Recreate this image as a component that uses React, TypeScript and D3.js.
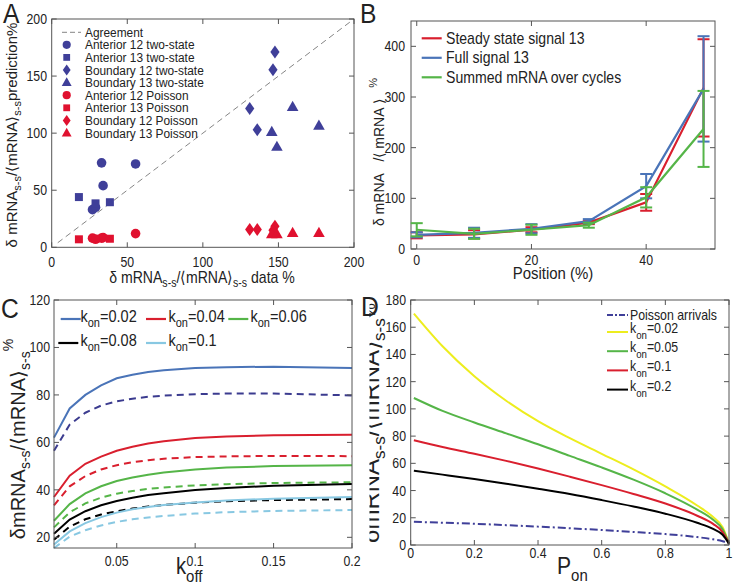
import React from "react";
import * as d3 from "d3";

// ---------- Panel A data ----------
const antTwo12X = [33, 55.5, 34, 27, 29];
const antTwo12Y = [74, 73, 54, 33, 35];
const antTwo13X = [18, 29, 38.5];
const antTwo13Y = [44, 38.5, 39.5];
const bndTwo12X = [147.7, 146.4, 131, 136];
const bndTwo12Y = [171, 155.5, 121.5, 103];
const bndTwo13X = [159.4, 176.8, 145.6, 149];
const bndTwo13Y = [123, 106.5, 101, 88];
const antPois12X = [27, 29, 33, 34, 55.5];
const antPois12Y = [8, 7, 8, 8.5, 12];
const antPois13X = [18, 29, 38.5];
const antPois13Y = [7, 7.5, 7.5];
const bndPois12X = [131, 136, 147.7, 146.4];
const bndPois12Y = [15.5, 15.5, 18.5, 15];
const bndPois13X = [159.4, 176.8, 145.6, 149];
const bndPois13Y = [12.5, 12.5, 11.5, 11.5];
const ticksA = [0, 50, 100, 150, 200];

// ---------- Panel B data ----------
const positions = [0, 10, 20, 30, 40, 50];
const steadyMean = [27, 29, 38, 52, 92, 318];
const steadyErr = [6, 8, 5, 3, 16.5, 96];
const fullMean = [28, 32, 40, 55, 124, 316];
const fullErr = [5, 10, 9, 4, 24, 104];
const summedMean = [38, 30, 38, 47, 102, 237];
const summedErr = [13, 10, 10, 5, 20, 75];
const ticksBX = [0, 20, 40];
const ticksBY = [0, 100, 200, 300, 400];

// ---------- Panel C data ----------
const koff = [0.01, 0.02, 0.03, 0.04, 0.05, 0.06, 0.07, 0.08, 0.1, 0.12, 0.15, 0.2];
const c002 = [62, 74.3, 80, 84, 87, 88.5, 89.7, 90.4, 91.3, 91.7, 91.9, 91.3];
const c002d = [56.5, 67.5, 72.5, 75.5, 77.3, 78.4, 79.2, 79.7, 80.3, 80.6, 80.6, 79.8];
const c004 = [37, 46, 51, 54, 56.5, 58.2, 59.5, 60.5, 61.8, 62.5, 63, 63.2];
const c004d = [33.5, 41.5, 45.8, 48.6, 50.4, 51.6, 52.5, 53.1, 53.8, 54.1, 54.3, 54.2];
const c006 = [27, 34, 38.5, 41.5, 43.7, 45.2, 46.4, 47.3, 48.6, 49.4, 50, 50.4];
const c006d = [24.2, 30.5, 34.3, 36.7, 38.4, 39.5, 40.4, 41, 41.9, 42.4, 42.9, 43.2];
const c008 = [21.5, 27.5, 31, 33.5, 35.3, 36.7, 37.8, 38.6, 39.9, 40.8, 41.7, 42.5];
const c008d = [19, 24.5, 27.6, 29.6, 31, 32.1, 33, 33.6, 34.6, 35.2, 35.7, 36.1];
const c010 = [17, 22.5, 26, 28.5, 30.4, 31.8, 32.8, 33.6, 34.7, 35.5, 36.3, 37];
const c010d = [15.5, 20.3, 23, 25, 26.5, 27.6, 28.4, 29, 30, 30.6, 31.1, 31.5];
const ticksCX = [0.05, 0.1, 0.15, 0.2];
const ticksCY = [20, 40, 60, 80, 100, 120];

// ---------- Panel D data ----------
const pon = [0.01, 0.1, 0.2, 0.3, 0.4, 0.5, 0.6, 0.7, 0.8, 0.9, 0.95, 0.98, 1];
const dPoisson = [17, 16.4, 15.6, 14.6, 13.5, 12.3, 11, 9.6, 8, 5.8, 4.2, 2.8, 1];
const d002 = [170, 146, 124, 106, 91, 78.5, 67, 55.5, 43, 29, 20.5, 13, 1];
const d005 = [108, 98.5, 90, 82, 74, 65.5, 57, 48, 38, 26, 18.5, 11.5, 1];
const d01 = [77, 72, 67, 61.8, 56.2, 50.2, 44, 37.5, 30.5, 21.5, 15.5, 9.5, 1];
const d02 = [54.5, 51.7, 48.5, 45, 41.3, 37.4, 33, 28.3, 23, 16.3, 11.8, 7.5, 1];
const ticksDX = [0, 0.2, 0.4, 0.6, 0.8, 1];
const ticksDY = [0, 20, 40, 60, 80, 100, 120, 140, 160, 180];

// ---------- styling ----------
const FONT = "'Liberation Sans', Arial, Helvetica, sans-serif";
const SX = 0.88;
const TXT = "#222";
const AX = "#555";
const NAVY = "#3f3f99";
const REDA = "#e0112f";
const RED = "#d91f2e";
const BLUE = "#4a74b8";
const GREEN = "#55b548";
const LBLUE = "#88c8e2";
const YELLOW = "#eded1e";

function HText({ x, y, size, anchor = "start", children }: any) {
  return (
    <text transform={`translate(${x},${y}) scale(${SX},1)`} fontSize={size} textAnchor={anchor} fill={TXT} fontFamily={FONT}>
      {children}
    </text>
  );
}
function VText({ x, y, size, children }: any) {
  return (
    <text transform={`translate(${x},${y}) rotate(-90)`} fontSize={size} textAnchor="middle" fill={TXT} fontFamily={FONT}>
      {children}
    </text>
  );
}

function Frame({ xs, ys, xt, yt, len = 5 }: any) {
  const [xa, xb] = xs.range();
  const [ya, yb] = ys.range();
  return (
    <g stroke={AX} strokeWidth={1} fill="none">
      <rect x={xa} y={yb} width={xb - xa} height={ya - yb} />
      {xt.map((t: number, i: number) => (
        <g key={"x" + i}>
          <line x1={xs(t)} x2={xs(t)} y1={ya} y2={ya - len} />
          <line x1={xs(t)} x2={xs(t)} y1={yb} y2={yb + len} />
        </g>
      ))}
      {yt.map((t: number, i: number) => (
        <g key={"y" + i}>
          <line x1={xa} x2={xa + len} y1={ys(t)} y2={ys(t)} />
          <line x1={xb} x2={xb - len} y1={ys(t)} y2={ys(t)} />
        </g>
      ))}
    </g>
  );
}

function TickLabels({ xs, ys, xt, yt, xLabelY, yLabelX, fmt, size = 14 }: any) {
  return (
    <g>
      {xt.map((t: number, i: number) => (
        <HText key={"xl" + i} x={xs(t)} y={xLabelY} size={size} anchor="middle">{fmt(t)}</HText>
      ))}
      {yt.map((t: number, i: number) => (
        <HText key={"yl" + i} x={yLabelX} y={ys(t) + 5} size={size} anchor="end">{fmt(t)}</HText>
      ))}
    </g>
  );
}

function Marker({ shape, color, x, y, s = 1 }: any) {
  const t = `translate(${x},${y}) scale(${s})`;
  if (shape === "circle") return <circle cx={x} cy={y} r={4.8 * s} fill={color} />;
  if (shape === "square") return <rect x={x - 4 * s} y={y - 4 * s} width={8 * s} height={8 * s} fill={color} />;
  if (shape === "diamond") return <path transform={t} d="M0,-6.5L4.6,0L0,6.5L-4.6,0Z" fill={color} />;
  return <path transform={t} d="M0,-6.2L5.8,4L-5.8,4Z" fill={color} />;
}

const SubLabel = ({ sub = 12, dd = 4, tail }: any) => (
  <>
    <tspan>δ mRNA</tspan>
    <tspan fontSize={sub} dy={dd}>s-s</tspan>
    <tspan dy={-dd}>/⟨mRNA⟩</tspan>
    <tspan fontSize={sub} dy={dd}>s-s</tspan>
    <tspan dy={-dd}>{tail}</tspan>
  </>
);

const RatioLabel = ({ sub, dd, sup }: any) => (
  <>
    <tspan>δmRNA</tspan>
    <tspan fontSize={sub} dy={dd}>s-s</tspan>
    <tspan dy={-dd}>/⟨mRNA⟩</tspan>
    <tspan fontSize={sub} dy={dd}>s-s</tspan>
    <tspan fontSize={sub} dy={-sup}>%</tspan>
  </>
);

export default function App() {
  // ----- A -----
  const xA = d3.scaleLinear([0, 200], [51.7, 354]);
  const yA = d3.scaleLinear([0, 200], [247.3, 19]);
  const seriesA = [
    { name: "Anterior 12 two-state", xs: antTwo12X, ys: antTwo12Y, shape: "circle", color: NAVY },
    { name: "Anterior 13 two-state", xs: antTwo13X, ys: antTwo13Y, shape: "square", color: NAVY },
    { name: "Boundary 12 two-state", xs: bndTwo12X, ys: bndTwo12Y, shape: "diamond", color: NAVY },
    { name: "Boundary 13 two-state", xs: bndTwo13X, ys: bndTwo13Y, shape: "triangle", color: NAVY },
    { name: "Anterior 12 Poisson", xs: antPois12X, ys: antPois12Y, shape: "circle", color: REDA },
    { name: "Anterior 13 Poisson", xs: antPois13X, ys: antPois13Y, shape: "square", color: REDA },
    { name: "Boundary 12 Poisson", xs: bndPois12X, ys: bndPois12Y, shape: "diamond", color: REDA },
    { name: "Boundary 13 Poisson", xs: bndPois13X, ys: bndPois13Y, shape: "triangle", color: REDA },
  ];

  // ----- B -----
  const xB = d3.scaleLinear([-1, 52], [411, 715]);
  const yB = d3.scaleLinear([0, 450], [249, 21]);
  const lineB = d3.line<number>().x((_, i) => xB(positions[i])).y((d) => yB(d));
  const seriesB = [
    { name: "Steady state signal 13", m: steadyMean, e: steadyErr, color: RED },
    { name: "Full signal 13", m: fullMean, e: fullErr, color: BLUE },
    { name: "Summed mRNA over cycles", m: summedMean, e: summedErr, color: GREEN },
  ];

  // ----- C -----
  const xC = d3.scaleLinear([0.01, 0.2], [54, 352]);
  const yC = d3.scaleLinear([15.5, 120], [548, 300]);
  const lineC = d3.line<number>().x((_, i) => xC(koff[i])).y((d) => yC(d));
  const seriesC = [
    { label: "=0.02", solid: c002, dashed: c002d, color: BLUE, dcolor: "#3b3b8f" },
    { label: "=0.04", solid: c004, dashed: c004d, color: RED, dcolor: RED },
    { label: "=0.06", solid: c006, dashed: c006d, color: GREEN, dcolor: GREEN },
    { label: "=0.08", solid: c008, dashed: c008d, color: "#000", dcolor: "#000" },
    { label: "=0.1", solid: c010, dashed: c010d, color: LBLUE, dcolor: LBLUE },
  ];
  const legC = [
    { lx: 60.7, tx: 80.5, y: 319 },
    { lx: 146, tx: 168.5, y: 319 },
    { lx: 228.3, tx: 250.5, y: 319 },
    { lx: 58.3, tx: 80.5, y: 343 },
    { lx: 146, tx: 168.5, y: 343 },
  ];

  // ----- D -----
  const xD = d3.scaleLinear([0, 1], [410.7, 729]);
  const yD = d3.scaleLinear([0, 180], [545, 300]);
  const lineD = d3.line<number>().x((_, i) => xD(pon[i])).y((d) => yD(d)).curve(d3.curveMonotoneX);
  const seriesD = [
    { label: "=0.02", v: d002, color: YELLOW },
    { label: "=0.05", v: d005, color: GREEN },
    { label: "=0.1", v: d01, color: RED },
    { label: "=0.2", v: d02, color: "#000" },
  ];

  return (
    <svg width={733} height={588} style={{ position: "absolute", left: 0, top: 0, background: "#fff" }} fontFamily={FONT}>
      <defs>
        <clipPath id="clipD">
          <rect x={369.5} y={280} width={364} height={308} />
        </clipPath>
        <clipPath id="clipB">
          <rect x={366} y={0} width={367} height={290} />
        </clipPath>
      </defs>
      <rect x={0} y={0} width={733} height={588} fill="#fff" />

      {/* ================= Panel A ================= */}
      <HText x={3} y={23} size={28}>A</HText>
      <line x1={xA(4)} y1={yA(4)} x2={xA(200)} y2={yA(200)} stroke="#666" strokeWidth={0.8} strokeDasharray="6,4" />
      {seriesA.map((s, si) =>
        s.xs.map((xv, i) => <Marker key={`a${si}-${i}`} shape={s.shape} color={s.color} x={xA(xv)} y={yA(s.ys[i])} />)
      )}
      <Frame xs={xA} ys={yA} xt={ticksA} yt={ticksA} />
      <TickLabels xs={xA} ys={yA} xt={ticksA} yt={ticksA} xLabelY={267} yLabelX={47} fmt={(t: number) => String(t)} />
      <g>
        <line x1={62} x2={81} y1={32.3} y2={32.3} stroke="#666" strokeWidth={0.8} strokeDasharray="5,3" />
        <HText x={85} y={36.8} size={13.5}>Agreement</HText>
        {seriesA.map((s, i) => (
          <g key={"la" + i}>
            <Marker shape={s.shape} color={s.color} x={66.7} y={44.8 + i * 12.6} s={0.85} />
            <HText x={85} y={49.3 + i * 12.6} size={13.5}>{s.name}</HText>
          </g>
        ))}
      </g>
      <VText x={17} y={135} size={15}>
        <SubLabel sub={11} dd={4} tail="prediction%" />
      </VText>
      <HText x={202} y={283} size={16}>
        <tspan textAnchor="middle">
          <SubLabel sub={12} dd={4} tail=" data %" />
        </tspan>
      </HText>

      {/* ================= Panel B ================= */}
      <HText x={360} y={23} size={28}>B</HText>
      <Frame xs={xB} ys={yB} xt={ticksBX} yt={ticksBY} />
      {seriesB.map((s, si) => (
        <g key={"b" + si}>
          <path d={lineB(s.m) || ""} fill="none" stroke={s.color} strokeWidth={2.2} />
          {s.m.map((m, i) => {
            const cx = xB(positions[i]);
            const lo = yB(m - s.e[i]);
            const hi = yB(m + s.e[i]);
            return (
              <g key={i} stroke={s.color} strokeWidth={2}>
                <line x1={cx} x2={cx} y1={lo} y2={hi} />
                <line x1={cx - 6} x2={cx + 6} y1={lo} y2={lo} />
                <line x1={cx - 6} x2={cx + 6} y1={hi} y2={hi} />
              </g>
            );
          })}
        </g>
      ))}
      <TickLabels xs={xB} ys={yB} xt={ticksBX} yt={ticksBY} xLabelY={265} yLabelX={405} fmt={(t: number) => String(t)} />
      {seriesB.map((s, i) => (
        <g key={"lb" + i}>
          <line x1={421.7} x2={441.7} y1={38.3 + i * 19.5} y2={38.3 + i * 19.5} stroke={s.color} strokeWidth={2.2} />
          <HText x={446} y={43.8 + i * 19.5} size={16}>{s.name}</HText>
        </g>
      ))}
      <HText x={553} y={279} size={17} anchor="middle">Position (%)</HText>
      <g clipPath="url(#clipB)">
        <VText x={384} y={152} size={14}>
          <tspan>δ mRNA</tspan>
          <tspan>{"\u00a0\u00a0\u00a0"}</tspan>
          <tspan>/⟨ mRNA ⟩</tspan>
          <tspan>{"\u00a0\u00a0\u00a0"}</tspan>
          <tspan fontSize={11} dy={-7}>%</tspan>
        </VText>
      </g>

      {/* ================= Panel C ================= */}
      <HText x={1} y={318} size={28}>C</HText>
      {seriesC.map((s, si) => (
        <g key={"c" + si}>
          <path d={lineC(s.dashed) || ""} fill="none" stroke={s.dcolor} strokeWidth={2} strokeDasharray="7,5" />
          <path d={lineC(s.solid) || ""} fill="none" stroke={s.color} strokeWidth={2} />
        </g>
      ))}
      <Frame xs={xC} ys={yC} xt={ticksCX} yt={ticksCY} />
      <TickLabels xs={xC} ys={yC} xt={ticksCX} yt={ticksCY} xLabelY={566} yLabelX={50} fmt={(t: number) => String(t)} />
      {seriesC.map((s, i) => (
        <g key={"lc" + i}>
          <line x1={legC[i].lx} x2={legC[i].lx + 20} y1={legC[i].y} y2={legC[i].y} stroke={s.color} strokeWidth={2.2} />
          <HText x={legC[i].tx} y={legC[i].y + 3} size={16.5}>
            <tspan>k</tspan>
            <tspan fontSize={12.5} dy={5}>on</tspan>
            <tspan dy={-5}>{s.label}</tspan>
          </HText>
        </g>
      ))}
      <HText x={176} y={574} size={23}>
        <tspan>k</tspan>
        <tspan fontSize={17} dy={8}>off</tspan>
      </HText>
      <VText x={25} y={439} size={20}>
        <RatioLabel sub={14} dd={5} sup={17} />
      </VText>

      {/* ================= Panel D ================= */}
      <HText x={361} y={316} size={28}>D</HText>
      <path d={lineD(dPoisson) || ""} fill="none" stroke={NAVY} strokeWidth={2} strokeDasharray="8,3,2,3" />
      {seriesD.map((s, i) => (
        <path key={"d" + i} d={lineD(s.v) || ""} fill="none" stroke={s.color} strokeWidth={2} />
      ))}
      <Frame xs={xD} ys={yD} xt={ticksDX} yt={ticksDY} />
      <TickLabels xs={xD} ys={yD} xt={ticksDX} yt={ticksDY} xLabelY={558} yLabelX={406} fmt={(t: number) => String(t)} />
      <line x1={607} x2={628} y1={315} y2={315} stroke={NAVY} strokeWidth={2} strokeDasharray="6,2,2,2" />
      <HText x={630} y={319.5} size={14}>Poisson arrivals</HText>
      {seriesD.map((s, i) => (
        <g key={"ld" + i}>
          <line x1={607} x2={628} y1={332 + i * 19.2} y2={332 + i * 19.2} stroke={s.color} strokeWidth={2} />
          <HText x={630} y={333 + i * 19.2} size={14}>
            <tspan>k</tspan>
            <tspan fontSize={11} dy={6}>on</tspan>
            <tspan dy={-6}>{s.label}</tspan>
          </HText>
        </g>
      ))}
      <HText x={557} y={574} size={24}>
        <tspan>P</tspan>
        <tspan fontSize={17} dy={7}>on</tspan>
      </HText>
      <g clipPath="url(#clipD)">
        <VText x={379} y={423} size={24}>
          <RatioLabel sub={17} dd={6} sup={10} />
        </VText>
      </g>
    </svg>
  );
}
